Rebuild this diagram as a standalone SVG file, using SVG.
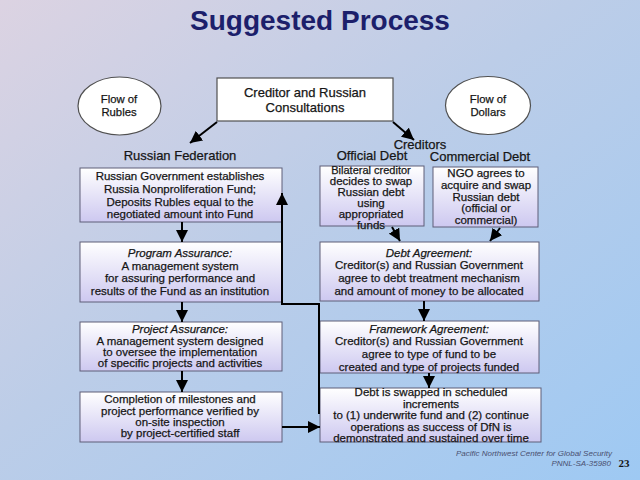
<svg xmlns="http://www.w3.org/2000/svg" width="640" height="480" viewBox="0 0 640 480">
<defs>
<linearGradient id="bg" x1="0" y1="0" x2="1" y2="1">
<stop offset="0" stop-color="#dcd3e2"/>
<stop offset="0.45" stop-color="#bccde8"/>
<stop offset="1" stop-color="#9ec9f3"/>
</linearGradient>
<linearGradient id="box" x1="0" y1="0" x2="0" y2="1">
<stop offset="0" stop-color="#ffffff"/>
<stop offset="1" stop-color="#cdc8f0"/>
</linearGradient>
<marker id="ah" markerUnits="userSpaceOnUse" markerWidth="12" markerHeight="12" viewBox="0 0 10 10" refX="10" refY="5" orient="auto">
<path d="M0,0 L10,5 L0,10 z" fill="#000"/>
</marker>
<style>
text{font-family:"Liberation Sans",Arial,sans-serif;fill:#161616;text-anchor:middle;stroke:#161616;stroke-width:0.25}
.t{font-size:11.5px}
.s{font-size:11px}
.i{font-style:italic}
.h{font-size:13px}
.e{font-size:11.3px}
.b{fill:url(#box);stroke:#5e5e78;stroke-width:1}
.w{fill:#fff;stroke:#505050;stroke-width:1.2}
.c{fill:none;stroke:#000;stroke-width:2;marker-end:url(#ah)}
.f{font-size:8px;font-style:italic;fill:#4a5070;stroke:none;text-anchor:end}
</style>
</defs>
<rect width="640" height="480" fill="url(#bg)"/>
<text x="320" y="30" style="font-size:28px;font-weight:bold;fill:#1c1f6b;stroke:none">Suggested Process</text>

<g id="consult"><rect class="w" x="217" y="78" width="176" height="43"/>
<text class="h" x="305" y="97">Creditor and Russian</text><text class="h" x="305" y="112">Consultations</text></g>

<g id="rubles"><ellipse class="w" cx="119.5" cy="106" rx="41.5" ry="29"/>
<text class="e" x="119" y="102.5">Flow of</text><text class="e" x="119" y="116">Rubles</text></g>

<g id="dollars"><ellipse class="w" cx="488" cy="105.5" rx="42.5" ry="29"/>
<text class="e" x="488" y="102.5">Flow of</text><text class="e" x="488" y="116">Dollars</text></g>

<g id="labels">
<text class="h" x="180" y="160">Russian Federation</text>
<text class="h" x="420" y="148.5">Creditors</text>
<text class="h" x="372" y="160">Official Debt</text>
<text class="h" x="480" y="160.5">Commercial Debt</text>
</g>

<g id="fund"><rect class="b" x="80" y="168" width="202" height="54"/>
<text class="t" x="180" y="180">Russian Government establishes</text>
<text class="t" x="180" y="192.5">Russia Nonproliferation Fund;</text>
<text class="t" x="180" y="205.5">Deposits Rubles equal to the</text>
<text class="t" x="180" y="218">negotiated amount into Fund</text></g>

<g id="program"><rect class="b" x="80" y="242" width="202" height="60"/>
<text class="t i" x="180" y="256.5">Program Assurance:</text>
<text class="t" x="180" y="269.5">A management system</text>
<text class="t" x="180" y="282">for assuring performance and</text>
<text class="t" x="180" y="294.5">results of the Fund as an institution</text></g>

<g id="project"><rect class="b" x="80" y="322" width="202" height="49"/>
<text class="t i" x="180" y="332.5">Project Assurance:</text>
<text class="t" x="180" y="344.5">A management system designed</text>
<text class="t" x="180" y="356">to oversee the implementation</text>
<text class="t" x="180" y="367">of specific projects and activities</text></g>

<g id="completion"><rect class="b" x="80" y="392" width="202" height="50"/>
<text class="t" x="180" y="403">Completion of milestones and</text>
<text class="t" x="180" y="414.5">project performance verified by</text>
<text class="t" x="180" y="426">on-site inspection</text>
<text class="t" x="180" y="437">by project-certified staff</text></g>

<g id="bilateral"><rect class="b" x="320" y="166" width="104" height="60"/>
<text class="s" x="371" y="173.5">Bilateral creditor</text>
<text class="t" x="371" y="184.5">decides to swap</text>
<text class="t" x="371" y="195.5">Russian debt</text>
<text class="t" x="371" y="206.5">using</text>
<text class="t" x="371" y="217.5">appropriated</text>
<text class="t" x="371" y="228.5">funds</text></g>

<g id="ngo"><rect class="b" x="433" y="167" width="105" height="60"/>
<text class="t" x="486" y="177">NGO agrees to</text>
<text class="t" x="486" y="189">acquire and swap</text>
<text class="t" x="486" y="200.5">Russian debt</text>
<text class="t" x="486" y="212">(official or</text>
<text class="t" x="486" y="223.5">commercial)</text></g>

<g id="debtagr"><rect class="b" x="320" y="242" width="219" height="59"/>
<text class="t i" x="429" y="256.5">Debt Agreement:</text>
<text class="t" x="429" y="269">Creditor(s) and Russian Government</text>
<text class="t" x="429" y="282">agree to debt treatment mechanism</text>
<text class="t" x="429" y="294.5">and amount of money to be allocated</text></g>

<g id="framework"><rect class="b" x="320" y="321" width="219" height="52"/>
<text class="t i" x="429" y="332.5">Framework Agreement:</text>
<text class="t" x="429" y="345">Creditor(s) and Russian Government</text>
<text class="t" x="429" y="357.5">agree to type of fund to be</text>
<text class="t" x="429" y="370.5">created and type of projects funded</text></g>

<g id="swap"><rect class="b" x="320" y="388" width="221" height="54"/>
<text class="t" x="431" y="396">Debt is swapped in scheduled</text>
<text class="t" x="431" y="407.5">increments</text>
<text class="t" x="431" y="419">to (1) underwrite fund and (2) continue</text>
<text class="t" x="431" y="430.5">operations as success of DfN is</text>
<text class="t" x="431" y="441.5">demonstrated and sustained over time</text></g>

<g id="connectors">
<line class="c" x1="217" y1="122" x2="190" y2="143"/>
<line class="c" x1="393" y1="122" x2="414" y2="140"/>
<line class="c" x1="182" y1="222" x2="182" y2="242"/>
<line class="c" x1="182" y1="302" x2="182" y2="322"/>
<line class="c" x1="182" y1="371" x2="182" y2="392"/>
<line class="c" x1="392" y1="227" x2="400" y2="241"/>
<line class="c" x1="500" y1="228" x2="490" y2="241"/>
<line class="c" x1="424" y1="301" x2="424" y2="321"/>
<line class="c" x1="429" y1="373" x2="429" y2="388"/>
<line class="c" x1="282" y1="427" x2="320" y2="427"/>
<polyline class="c" points="319,414 319,304 282,304 282,193"/>
</g>

<g id="footer">
<text class="f" x="612" y="456">Pacific Northwest Center for Global Security</text>
<text class="f" x="611" y="466">PNNL-SA-35980</text>
<text x="624" y="467" style="font-family:'Liberation Serif',serif;font-size:11px;font-weight:bold;stroke:none">23</text>
</g>
</svg>
